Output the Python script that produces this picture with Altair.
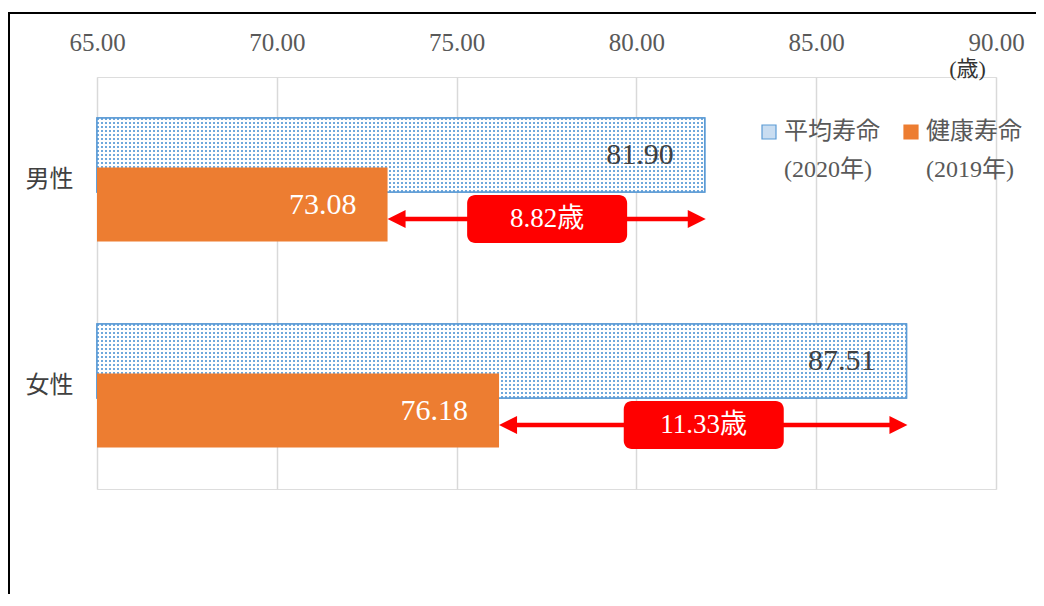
import altair as alt
import pandas as pd

# ---------------- data ----------------
categories = ["男性", "女性"]
avg_life = [81.90, 87.51]          # 平均寿命 (2020年)
healthy_life = [73.08, 76.18]      # 健康寿命 (2019年)
series_names = ["平均寿命", "健康寿命"]
series_years = ["(2020年)", "(2019年)"]
x_ticks = [65, 70, 75, 80, 85, 90]
unit_label = "(歳)"
unit_suffix = "歳"

wide = pd.DataFrame({"category": categories, "avg": avg_life, "healthy": healthy_life})
long = pd.DataFrame(
    [{"category": c, "series": series_names[0], "value": v} for c, v in zip(categories, avg_life)]
    + [{"category": c, "series": series_names[1], "value": v} for c, v in zip(categories, healthy_life)]
)

# ---------------- style ----------------
PLOT_W, PLOT_H = 899, 412
X_MIN, X_MAX = x_ticks[0], x_ticks[-1]
BLUE = "#5B9BD5"
DOT_BLUE = "#6FA8DC"
LIGHT_BLUE = "#C9DDF1"
ORANGE = "#ED7D31"
RED = "#FF0000"
SERIF = "Liberation Serif, Noto Sans CJK JP"
CJK = "Noto Sans CJK JP"

BAR_H = 74
AVG_OFF = -25
HEALTHY_OFF = 24.5
ARROW_OFF = 39

x_scale = alt.Scale(domain=[X_MIN, X_MAX], nice=False, zero=False)
x_axis = alt.Axis(
    orient="top", values=x_ticks, format=".2f",
    title=unit_label, titleX=870, titleY=-9, titleAlign="center", titleBaseline="middle",
    titleAngle=0, titleFont=SERIF, titleFontSize=22, titleFontWeight="normal", titleColor="#333333",
    labelFont=SERIF, labelFontSize=25, labelColor="#595959", labelPadding=22, labelFlush=False,
    ticks=False, domain=False, grid=True, gridColor="#D9D9D9", gridWidth=1.5,
)
y_enc = alt.Y(
    "category:N", sort=categories,
    scale=alt.Scale(paddingInner=0, paddingOuter=0),
    axis=alt.Axis(title=None, labelFont=CJK, labelFontSize=24, labelColor="#404040",
                  labelPadding=24, ticks=False, domain=False, grid=False),
)

label_expr = (
    f"datum.label == '{series_names[0]}' ? ['{series_names[0]}', '{series_years[0]}'] : "
    f"['{series_names[1]}', '{series_years[1]}']"
)
legend = alt.Legend(
    title=None, orient="none", legendX=660, legendY=43, direction="horizontal", columns=2,
    columnPadding=19, symbolType="square", symbolSize=196, symbolStrokeWidth=1.2,
    labelFont=SERIF, labelFontSize=24, labelColor="#595959", labelOffset=3, labelLimit=400,
    labelExpr=label_expr,
)
color_scale = alt.Scale(domain=series_names, range=[LIGHT_BLUE, ORANGE])
stroke_scale = alt.Scale(domain=series_names, range=[BLUE, ORANGE])


def x_field(f):
    return alt.X(f"{f}:Q", scale=x_scale, axis=x_axis)


def stripe_stops(length_px, period, on, c_on, c_off):
    stops = []
    k = 0
    while k * period < length_px:
        a = k * period / length_px
        b = min((k * period + on) / length_px, 1.0)
        c = min((k + 1) * period / length_px, 1.0)
        stops += [(a, c_on), (b, c_on), (b, c_off), (c, c_off)]
        k += 1
    return [alt.GradientStop(offset=round(o, 6), color=col) for o, col in stops]


avg_filter = alt.datum.series == series_names[0]
healthy_filter = alt.datum.series == series_names[1]

base_avg = alt.Chart(long).transform_filter(avg_filter).mark_bar(
    height=BAR_H, yOffset=AVG_OFF, strokeWidth=1.5
).encode(
    x=x_field("value"), x2=alt.datum(X_MIN), y=y_enc,
    color=alt.Color("series:N", scale=color_scale, legend=legend),
    stroke=alt.Stroke("series:N", scale=stroke_scale, legend=legend),
)

texture_layers = []
for c, v in zip(categories, avg_life):
    w_px = (v - X_MIN) / (X_MAX - X_MIN) * PLOT_W
    g_v = alt.LinearGradient(gradient="linear", x1=0, x2=1, y1=0, y2=0,
                             stops=stripe_stops(w_px, 4, 2, DOT_BLUE, "#FFFFFF"))
    g_h = alt.LinearGradient(gradient="linear", x1=0, x2=0, y1=0, y2=1,
                             stops=stripe_stops(BAR_H, 4, 2, "rgba(255,255,255,0)", "#FFFFFF"))
    flt = (alt.datum.series == series_names[0]) & (alt.datum.category == c)
    texture_layers.append(
        alt.Chart(long).transform_filter(flt).mark_bar(
            height=BAR_H, yOffset=AVG_OFF, fill=g_v, strokeWidth=0
        ).encode(x=x_field("value"), x2=alt.datum(X_MIN), y=y_enc)
    )
    texture_layers.append(
        alt.Chart(long).transform_filter(flt).mark_bar(
            height=BAR_H, yOffset=AVG_OFF, fill=g_h, stroke=BLUE, strokeWidth=1.5
        ).encode(x=x_field("value"), x2=alt.datum(X_MIN), y=y_enc)
    )

healthy_bars = alt.Chart(long).transform_filter(healthy_filter).mark_bar(
    height=BAR_H, yOffset=HEALTHY_OFF, strokeWidth=0
).encode(
    x=x_field("value"), x2=alt.datum(X_MIN), y=y_enc,
    color=alt.Color("series:N", scale=color_scale, legend=legend),
    stroke=alt.Stroke("series:N", scale=stroke_scale, legend=legend),
)

avg_labels = alt.Chart(long).transform_filter(avg_filter).mark_text(
    align="right", baseline="middle", dx=-31, yOffset=AVG_OFF,
    font=SERIF, fontSize=30, color="#404040"
).encode(x=x_field("value"), y=y_enc, text=alt.Text("value:Q", format=".2f"))

healthy_labels = alt.Chart(long).transform_filter(healthy_filter).mark_text(
    align="right", baseline="middle", dx=-31, yOffset=HEALTHY_OFF,
    font=SERIF, fontSize=30, color="#FFFFFF"
).encode(x=x_field("value"), y=y_enc, text=alt.Text("value:Q", format=".2f"))

diff_base = alt.Chart(wide).transform_calculate(
    mid="(datum.avg + datum.healthy) / 2",
    diff_label=f"format(datum.avg - datum.healthy, '.2f') + '{unit_suffix}'",
)

arrow_line = diff_base.mark_rule(
    color=RED, strokeWidth=4.5, yOffset=ARROW_OFF, xOffset=9, x2Offset=-8
).encode(x=x_field("healthy"), x2="avg:Q", y=y_enc)

head_left = diff_base.mark_point(
    shape="M-1,0L1,-1L1,1Z", size=324, filled=True, opacity=1, color=RED,
    yOffset=ARROW_OFF, xOffset=9
).encode(x=x_field("healthy"), y=y_enc)

head_right = diff_base.mark_point(
    shape="M1,0L-1,-1L-1,1Z", size=324, filled=True, opacity=1, color=RED,
    yOffset=ARROW_OFF, xOffset=-8
).encode(x=x_field("avg"), y=y_enc)

diff_box = diff_base.mark_rect(
    width=160, height=48, cornerRadius=8, color=RED, yOffset=ARROW_OFF, xOffset=1
).encode(x=x_field("mid"), y=y_enc)

diff_text = diff_base.mark_text(
    align="center", baseline="middle", yOffset=ARROW_OFF, dx=1,
    font=SERIF, fontSize=27, color="#FFFFFF"
).encode(x=x_field("mid"), y=y_enc, text="diff_label:N")

frame = alt.Chart(pd.DataFrame({"k": [0]})).mark_rect(
    fillOpacity=0, stroke="#000000", strokeWidth=2
).encode(x=alt.value(-88), x2=alt.value(1000), y=alt.value(-64), y2=alt.value(620))

chart = alt.layer(
    base_avg, *texture_layers, healthy_bars, avg_labels, healthy_labels,
    arrow_line, head_left, head_right, diff_box, diff_text, frame,
).properties(
    width=PLOT_W, height=PLOT_H,
    padding={"left": 89, "top": 69, "right": 40, "bottom": 105},
    autosize=alt.AutoSizeParams(type="none"),
).configure_view(stroke=None).configure(
    style={"guide-label": {"lineHeight": 38}}
)

chart.save("out.html", embed_options={"renderer": "svg", "actions": False})
